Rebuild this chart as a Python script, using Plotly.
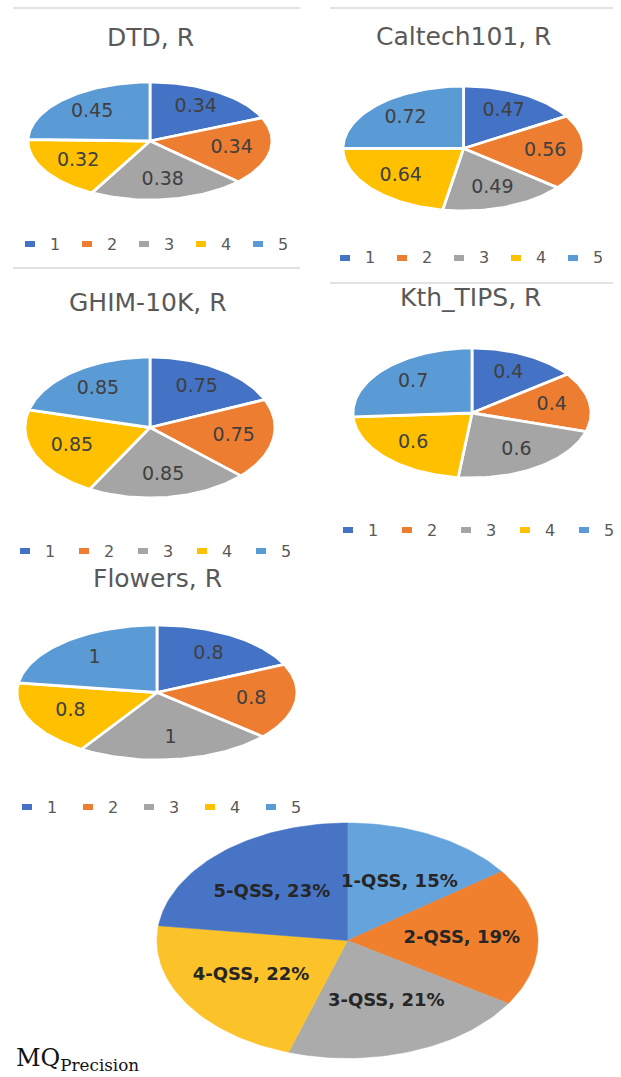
import numpy as np
import plotly.graph_objects as go

W, H = 621, 1077

# ---- data -------------------------------------------------------------
categories = ["1", "2", "3", "4", "5"]
dtd_r = [0.34, 0.34, 0.38, 0.32, 0.45]
caltech101_r = [0.47, 0.56, 0.49, 0.64, 0.72]
ghim10k_r = [0.75, 0.75, 0.85, 0.85, 0.85]
kth_tips_r = [0.4, 0.4, 0.6, 0.6, 0.7]
flowers_r = [0.8, 0.8, 1, 0.8, 1]

mq_labels = ["1-QSS", "2-QSS", "3-QSS", "4-QSS", "5-QSS"]
mq_precision_pct = [15, 19, 21, 22, 23]

# ---- styling ----------------------------------------------------------
colors = ["#4472C4", "#ED7D31", "#A5A5A5", "#FFC000", "#5B9BD5"]
mq_colors = ["#65A3DD", "#F07F2E", "#ABABAB", "#FCC22A", "#4874C6"]
TEXT_GREY = "#595959"
LABEL_GREY = "#404040"
FONT = "DejaVu Sans"

# panel geometry in pixels: centre, radii, title position, legend row
panels = [
    dict(title="DTD, R", values=dtd_r, cx=150, cy=141, rx=122, ry=59,
         tx=150, ty=38, lx=25, ly=244, step=57),
    dict(title="Caltech101, R", values=caltech101_r, cx=463.5, cy=148.5, rx=120.5, ry=62.5,
         tx=463, ty=37, lx=340, ly=258, step=57),
    dict(title="GHIM-10K, R", values=ghim10k_r, cx=150, cy=427.5, rx=125, ry=70.5,
         tx=148, ty=302, lx=20, ly=551, step=59),
    dict(title="Kth_TIPS, R", values=kth_tips_r, cx=472, cy=413, rx=119, ry=65,
         tx=470, ty=297, lx=343, ly=530, step=59),
    dict(title="Flowers, R", values=flowers_r, cx=157, cy=692.5, rx=140, ry=67.5,
         tx=157, ty=578, lx=22, ly=807, step=61),
]
mq_panel = dict(cx=347.5, cy=940.5, rx=190.5, ry=117.5)

PAD = 1.04


def px_x(x):
    return x / W


def px_y(y):
    return 1 - y / H


def wedge_paths(values):
    """Yield (xs, ys, mid_angle) for each slice, clockwise from 12 o'clock."""
    vals = np.asarray(values, dtype=float)
    cum = np.concatenate([[0.0], np.cumsum(vals)]) / vals.sum() * 2 * np.pi
    for a0, a1 in zip(cum[:-1], cum[1:]):
        t = np.linspace(a0, a1, max(int((a1 - a0) / (2 * np.pi) * 240), 8))
        xs = np.concatenate([[0.0], np.sin(t), [0.0]])
        ys = np.concatenate([[0.0], np.cos(t), [0.0]])
        yield xs, ys, (a0 + a1) / 2


fig = go.Figure()
layout_axes = {}
annotations = []
shapes = []


def add_axes(idx, cx, cy, rx, ry):
    suffix = "" if idx == 1 else str(idx)
    layout_axes[f"xaxis{suffix}"] = dict(
        domain=[px_x(cx - rx * PAD), px_x(cx + rx * PAD)], range=[-PAD, PAD],
        visible=False, fixedrange=True, anchor=f"y{suffix}")
    layout_axes[f"yaxis{suffix}"] = dict(
        domain=[px_y(cy + ry * PAD), px_y(cy - ry * PAD)], range=[-PAD, PAD],
        visible=False, fixedrange=True, anchor=f"x{suffix}")
    return f"x{suffix}", f"y{suffix}"


# ---- five small recall pies --------------------------------------------
for i, p in enumerate(panels, start=1):
    xa, ya = add_axes(i, p["cx"], p["cy"], p["rx"], p["ry"])
    lx, ly, lt = [], [], []
    for k, (xs, ys, mid) in enumerate(wedge_paths(p["values"])):
        fig.add_trace(go.Scatter(
            x=xs, y=ys, mode="lines", fill="toself", fillcolor=colors[k],
            line=dict(color="white", width=2.8), xaxis=xa, yaxis=ya,
            hoverinfo="skip", showlegend=False))
        lx.append(0.68 * np.sin(mid))
        ly.append(0.68 * np.cos(mid))
        lt.append(f"{p['values'][k]:g}")
    fig.add_trace(go.Scatter(
        x=lx, y=ly, text=lt, mode="text", cliponaxis=False,
        textfont=dict(family=FONT, size=19, color=LABEL_GREY),
        xaxis=xa, yaxis=ya, hoverinfo="skip", showlegend=False))

    annotations.append(dict(
        text=p["title"], x=px_x(p["tx"]), y=px_y(p["ty"]), xref="paper", yref="paper",
        xanchor="center", yanchor="middle", showarrow=False,
        font=dict(family=FONT, size=25, color=TEXT_GREY)))

    # legend row
    for k, cat in enumerate(categories):
        x0 = p["lx"] + k * p["step"]
        shapes.append(dict(
            type="rect", xref="paper", yref="paper",
            x0=px_x(x0), x1=px_x(x0 + 10), y0=px_y(p["ly"] + 3), y1=px_y(p["ly"] - 3),
            fillcolor=colors[k], line=dict(width=0)))
        annotations.append(dict(
            text=cat, x=px_x(x0 + 23), y=px_y(p["ly"]), xref="paper", yref="paper",
            xanchor="left", yanchor="middle", showarrow=False,
            font=dict(family=FONT, size=16, color=TEXT_GREY)))

# ---- MQ precision pie -------------------------------------------------
xa, ya = add_axes(6, mq_panel["cx"], mq_panel["cy"], mq_panel["rx"], mq_panel["ry"])
lx, ly, lt = [], [], []
for k, (xs, ys, mid) in enumerate(wedge_paths(mq_precision_pct)):
    fig.add_trace(go.Scatter(
        x=xs, y=ys, mode="lines", fill="toself", fillcolor=mq_colors[k],
        line=dict(color=mq_colors[k], width=0.5), xaxis=xa, yaxis=ya,
        hoverinfo="skip", showlegend=False))
    lx.append(0.6 * np.sin(mid))
    ly.append(0.55 * np.cos(mid))
    lt.append(f"<b>{mq_labels[k]}, {mq_precision_pct[k]}%</b>")
fig.add_trace(go.Scatter(
    x=lx, y=ly, text=lt, mode="text", cliponaxis=False,
    textfont=dict(family=FONT, size=18, color="#262626"),
    xaxis=xa, yaxis=ya, hoverinfo="skip", showlegend=False))

annotations.append(dict(
    text="MQ<sub>Precision</sub>", x=px_x(14), y=px_y(1059), xref="paper", yref="paper",
    xanchor="left", yanchor="middle", showarrow=False,
    font=dict(family="DejaVu Serif", size=24, color="#111111")))

# thin separators between chart panels
for (x0, y0, x1, y1) in [(13, 8, 300, 8), (330, 8, 613, 8),
                         (13, 268, 300, 268), (330, 283, 613, 283)]:
    shapes.append(dict(type="line", xref="paper", yref="paper",
                       x0=px_x(x0), x1=px_x(x1), y0=px_y(y0), y1=px_y(y1),
                       line=dict(color="#D9D9D9", width=1.5)))

fig.update_layout(
    width=W, height=H, margin=dict(l=0, r=0, t=0, b=0),
    paper_bgcolor="white", plot_bgcolor="rgba(0,0,0,0)",
    showlegend=False, annotations=annotations, shapes=shapes,
    **layout_axes)

fig.write_html("out.html")
